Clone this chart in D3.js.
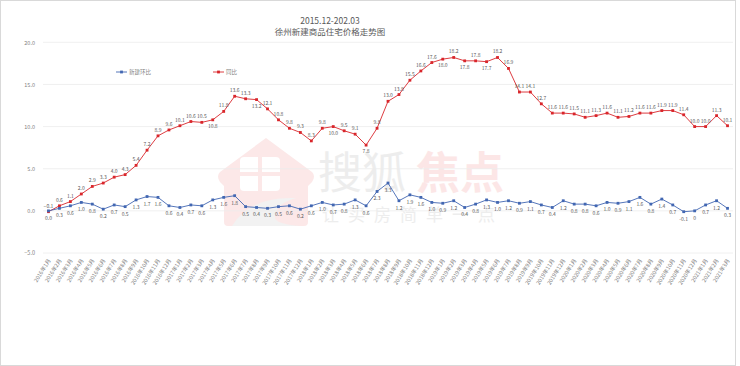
<!DOCTYPE html>
<html><head><meta charset="utf-8">
<script src="https://cdn.jsdelivr.net/npm/d3@7"></script>
<style>
html,body{margin:0;padding:0;background:#fff;}
svg{display:block;font-family:"Noto Sans CJK SC","Noto Sans",sans-serif;}
</style></head>
<body><svg id="c" width="740" height="366"></svg>
<script>
const titleLines = ["2015.12-202.03", "徐州新建商品住宅价格走势图"];
const seriesNames = ["新建环比", "同比"];
const months = (() => { const a = []; for (let y = 2016; y <= 2021; y++) for (let m = 1; m <= 12; m++) { if (y === 2021 && m > 3) break; a.push(y + "年" + m + "月"); } return a; })();
const huanbi = [0.0,0.3,0.6,1.0,0.8,0.2,0.7,0.5,1.3,1.7,1.6,0.6,0.4,0.7,0.6,1.3,1.6,1.8,
  0.5,0.4,0.3,0.5,0.6,0.2,0.6,1.0,0.7,0.8,1.3,0.6,2.3,3.3,1.2,1.9,1.6,1.0,0.9,1.2,0.4,0.8,1.3,
  1.0,1.2,0.9,1.1,0.7,0.4,1.2,0.8,0.8,0.6,1.0,0.9,1.1,1.6,0.8,1.4,0.7,-0.1,0,0.7,1.2,0.3];
const tongbi = [-0.1,0.6,1.1,2.0,2.9,3.3,4.0,4.3,5.4,7.2,8.9,9.6,10.1,10.6,10.5,10.8,11.8,13.6,13.3,13.2,
  12.1,10.8,9.8,9.3,8.3,9.8,10.0,9.5,9.1,7.8,9.8,13.0,13.8,15.5,16.6,17.6,18.0,18.2,17.8,17.8,17.7,18.2,
  16.9,14.1,14.1,12.7,11.6,11.6,11.5,11.1,11.3,11.6,11.1,11.2,11.6,11.6,11.9,11.9,11.4,10.0,10.0,11.3,10.1];
const labelsHuanbi = ["0.0","0.3","0.6","1.0","0.8","0.2","0.7","0.5","1.3","1.7","1.6","0.6","0.4","0.7","0.6","1.3","1.6","1.8",
  "0.5","0.4","0.3","0.5","0.6","0.2","0.6","1.0","0.7","0.8","1.3","0.6","2.3","3.3","1.2","1.9","1.6","1.0","0.9","1.2","0.4","0.8","1.3",
  "1.0","1.2","0.9","1.1","0.7","0.4","1.2","0.8","0.8","0.6","1.0","0.9","1.1","1.6","0.8","1.4","0.7","-0.1","0","0.7","1.2","0.3"];
const tongbiBelow = [15,19,26,29,36,38,40];
const yTicks = [-5,0,5,10,15,20];

const n = tongbi.length;
const cats = months.slice(0, n);

const svg = d3.select("#c");
svg.append("rect").attr("x",0.5).attr("y",0.5).attr("width",735).attr("height",365)
  .attr("fill","#fff").attr("stroke","#d9d9d9");

const x = d3.scalePoint().domain(cats).range([43,733]).padding(0.5);
const y = d3.scaleLinear().domain([-5,20]).range([253,42.3]);

// watermark
const wm = svg.append("g").attr("opacity",0.75);
wm.append("path").attr("d","M266,138 L312,172 Q316,176 312,182 L308,186 L308,222 Q308,226 304,226 L228,226 Q224,226 224,222 L224,186 L220,182 Q216,176 220,172 Z")
  .attr("fill","#fbe1e1");
wm.append("rect").attr("x",240).attr("y",157).attr("width",40).attr("height",34).attr("rx",4).attr("fill","#fff");
wm.append("rect").attr("x",258).attr("y",157).attr("width",4).attr("height",34).attr("fill","#fbe1e1");
wm.append("rect").attr("x",240).attr("y",172).attr("width",40).attr("height",4).attr("fill","#fbe1e1");
wm.append("path").attr("d","M232,226 Q250,196 296,198 Q276,204 276,214 Q270,224 300,226 Z").attr("fill","#eeeeee");
wm.append("text").attr("x",318).attr("y",189).attr("font-size",44).attr("fill","#e8e8e8").text("搜狐");
wm.append("text").attr("x",416).attr("y",189).attr("font-size",44).attr("font-weight","bold").attr("fill","#fbdede").text("焦点");
wm.append("text").attr("x",322).attr("y",221).attr("font-size",17).attr("letter-spacing",9).attr("fill","#e8e8e8").text("让买房简单一点");

// grid
svg.append("g").selectAll("line").data(yTicks).join("line")
  .attr("x1",43).attr("x2",733).attr("y1",d=>y(d)).attr("y2",d=>y(d))
  .attr("stroke","#ececec").attr("stroke-width",0.8);

// y axis labels
const yAxis = d3.axisLeft(y).tickValues(yTicks).tickFormat(d3.format(".1f")).tickSize(0).tickPadding(4);
const ya = svg.append("g").attr("transform","translate(39,0)").call(yAxis);
ya.select(".domain").remove();
ya.selectAll("text").attr("font-size",5.5).attr("fill","#7f7f7f").attr("font-family","Noto Sans CJK SC");

// x axis labels
const xAxis = d3.axisBottom(x).tickSize(0).tickPadding(0);
const xa = svg.append("g").attr("transform","translate(0,258)").call(xAxis);
xa.select(".domain").remove();
xa.selectAll("text").attr("font-size",5.5).attr("fill","#7f7f7f").attr("font-family","Noto Sans CJK SC")
  .attr("text-anchor","end").attr("dy","0.35em").attr("transform","rotate(-58)").attr("x",-1).attr("y",1);

// title
svg.append("g").selectAll("text").data(titleLines).join("text")
  .attr("x",330).attr("y",(d,i)=>24+i*11).attr("text-anchor","middle")
  .attr("font-size",8.5).attr("fill","#595959").text(d=>d);

const blue = "#4267b2", red = "#d9262b";
const line = d3.line().x((d,i)=>x(cats[i])).y(d=>y(d));

function drawSeries(data, color) {
  svg.append("path").datum(data).attr("d",line).attr("fill","none").attr("stroke",color).attr("stroke-width",0.9);
  svg.append("g").selectAll("rect").data(data).join("rect")
    .attr("x",(d,i)=>x(cats[i])-1.4).attr("y",d=>y(d)-1.4).attr("width",2.8).attr("height",2.8).attr("fill",color);
}
drawSeries(tongbi, red);
drawSeries(huanbi, blue);

// data labels
svg.append("g").selectAll("text").data(tongbi).join("text")
  .attr("x",(d,i)=>x(cats[i])).attr("y",(d,i)=>tongbiBelow.includes(i) ? y(d)+8 : y(d)-4)
  .attr("text-anchor","middle").attr("font-size",5).attr("fill","#595959")
  .text(d=>d3.format(".1f")(d));
svg.append("g").selectAll("text").data(huanbi).join("text")
  .attr("x",(d,i)=>x(cats[i])).attr("y",d=>y(d)+9)
  .attr("text-anchor","middle").attr("font-size",5).attr("fill","#595959")
  .text((d,i)=>labelsHuanbi[i]);

// legend
const lg = [{name:seriesNames[0],color:blue,x:116},{name:seriesNames[1],color:red,x:213}];
const lgG = svg.append("g").selectAll("g").data(lg).join("g").attr("transform",d=>`translate(${d.x},72)`);
lgG.append("line").attr("x1",0).attr("x2",11).attr("stroke",d=>d.color).attr("stroke-width",0.9);
lgG.append("rect").attr("x",4.1).attr("y",-1.4).attr("width",2.8).attr("height",2.8).attr("fill",d=>d.color);
lgG.append("text").attr("x",13).attr("y",2).attr("font-size",5.5).attr("fill","#7f7f7f").text(d=>d.name);
</script></body></html>
